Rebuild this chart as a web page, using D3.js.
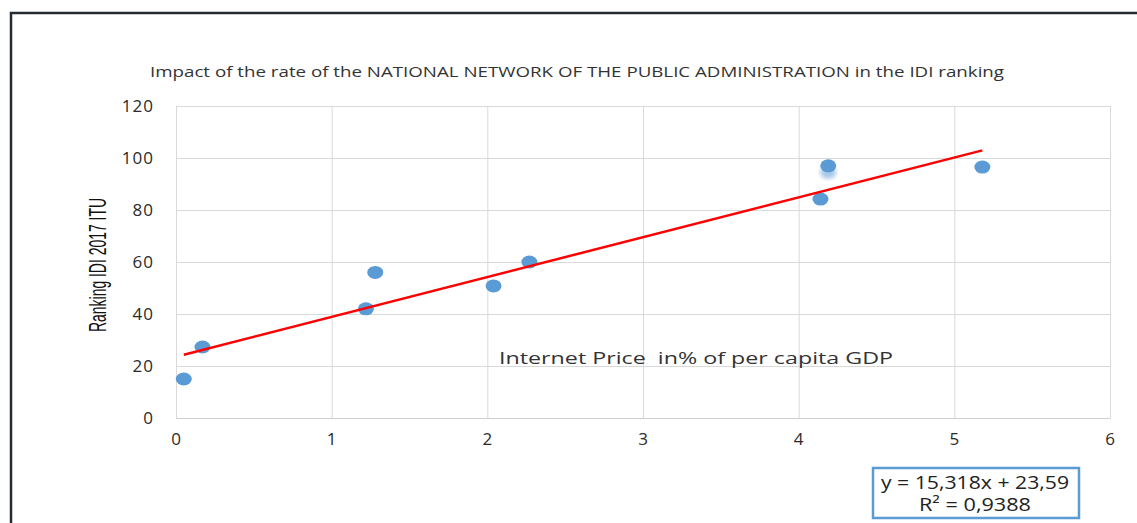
<html>
<head>
<meta charset="utf-8">
<title>IDI ranking scatter</title>
<script src="https://cdnjs.cloudflare.com/ajax/libs/d3/7.8.5/d3.min.js"></script>
<style>
  body { margin: 0; padding: 0; background: #fff; }
  svg { display: block; }
  .grid line { stroke: #d9d9d9; stroke-width: 1; }
  .tick text { font-family: "Open Sans", sans-serif; font-size: 17px; fill: #2a2a2a; letter-spacing: 1px; }
  text { white-space: pre; }
</style>
</head>
<body>
<script>
// values
var priceShare = [0.05, 0.17, 1.22, 1.28, 2.04, 2.27, 4.14, 4.19, 5.18];
var idiRank    = [15, 27.3, 42, 56, 50.8, 60, 84.2, 97, 96.5];
var ghostPoint = [4.19, 94.5];   // faint, blurred duplicate marker
var xTicks = [0, 1, 2, 3, 4, 5, 6];
var yTicks = [0, 20, 40, 60, 80, 100, 120];
var slope = 15.318, intercept = 23.59, r2 = "0,9388";
var titleText = "Impact of the rate of the NATIONAL NETWORK OF THE PUBLIC ADMINISTRATION in the IDI ranking";
var yLabel = "Ranking IDI 2017 ITU";
var xLabel = "Internet Price  in% of per capita GDP";

var w = 1137, h = 523;
var svg = d3.select("body").append("svg").attr("width", w).attr("height", h);

// outer frame (only top and left visible)
svg.append("path")
  .attr("d", "M11,523 V13 H1137")
  .attr("fill", "none")
  .attr("stroke", "#262b33")
  .attr("stroke-width", 2.5);

var x = d3.scaleLinear().domain([0, 6]).range([176, 1110]);
var y = d3.scaleLinear().domain([0, 120]).range([418, 106]);

// gridlines
svg.append("g").attr("class", "grid")
  .selectAll("line.h").data(yTicks).enter().append("line")
  .attr("x1", x(0)).attr("x2", x(6))
  .attr("y1", function(d) { return y(d) + 0.5; })
  .attr("y2", function(d) { return y(d) + 0.5; });
svg.append("g").attr("class", "grid")
  .selectAll("line.v").data(xTicks).enter().append("line")
  .attr("x1", function(d) { return x(d) + 0.5; })
  .attr("x2", function(d) { return x(d) + 0.5; })
  .attr("y1", y(0)).attr("y2", y(120));

// axes (labels only)
var xAxis = svg.append("g").attr("transform", "translate(0," + y(0) + ")")
  .call(d3.axisBottom(x).tickValues(xTicks).tickFormat(d3.format("d")).tickSize(0).tickPadding(15));
xAxis.select(".domain").attr("stroke", "#d0d0d0");
var yAxis = svg.append("g").attr("transform", "translate(" + x(0) + ",0)")
  .call(d3.axisLeft(y).tickValues(yTicks).tickSize(0).tickPadding(22));
yAxis.select(".domain").remove();

// title
svg.append("text")
  .attr("x", 577).attr("y", 77)
  .attr("text-anchor", "middle")
  .attr("font-family", "'Open Sans', sans-serif")
  .attr("font-size", 14.5)
  .attr("fill", "#333")
  .attr("textLength", 854)
  .attr("lengthAdjust", "spacingAndGlyphs")
  .text(titleText);

// y label
svg.append("text")
  .attr("transform", "translate(106,265) rotate(-90)")
  .attr("text-anchor", "middle")
  .attr("font-family", "'Liberation Sans Narrow', 'Liberation Sans', sans-serif")
  .attr("font-size", 24)
  .attr("fill", "#111")
  .attr("textLength", 134)
  .attr("lengthAdjust", "spacingAndGlyphs")
  .text(yLabel);

// x label inside the plot
svg.append("text")
  .attr("x", 499).attr("y", 364)
  .attr("font-family", "'Open Sans', sans-serif")
  .attr("font-size", 17)
  .attr("fill", "#333")
  .attr("textLength", 394)
  .attr("lengthAdjust", "spacingAndGlyphs")
  .text(xLabel);

// blur filter for the ghost marker
svg.append("defs").append("filter").attr("id", "blur")
  .append("feGaussianBlur").attr("stdDeviation", 2.2);

svg.append("ellipse")
  .attr("cx", x(ghostPoint[0])).attr("cy", y(ghostPoint[1]))
  .attr("rx", 8).attr("ry", 6.5)
  .attr("fill", "#5b9bd5").attr("opacity", 0.55)
  .attr("filter", "url(#blur)");

// points
var pts = priceShare.map(function(d, i) { return [d, idiRank[i]]; });
svg.selectAll("ellipse.pt").data(pts).enter().append("ellipse")
  .attr("class", "pt")
  .attr("cx", function(d) { return x(d[0]); })
  .attr("cy", function(d) { return y(d[1]); })
  .attr("rx", 8).attr("ry", 6.5)
  .attr("fill", "#5b9bd5");

// linear trend line over the data range
var xr = d3.extent(priceShare);
svg.append("line")
  .attr("x1", x(xr[0])).attr("y1", y(slope * xr[0] + intercept))
  .attr("x2", x(xr[1])).attr("y2", y(slope * xr[1] + intercept))
  .attr("stroke", "#ff0000")
  .attr("stroke-width", 2.5);

// equation box
svg.append("rect")
  .attr("x", 873).attr("y", 468).attr("width", 206).attr("height", 50)
  .attr("fill", "#fff")
  .attr("stroke", "#5b9bd5")
  .attr("stroke-width", 2.5);
var eq = svg.append("text")
  .attr("text-anchor", "middle")
  .attr("font-family", "'Open Sans', sans-serif")
  .attr("font-size", 18)
  .attr("fill", "#222");
eq.append("tspan").attr("x", 975).attr("y", 489)
  .attr("textLength", 188).attr("lengthAdjust", "spacingAndGlyphs")
  .text("y = " + String(slope).replace(".", ",") + "x + " + String(intercept).replace(".", ","));
eq.append("tspan").attr("x", 975).attr("y", 511)
  .attr("textLength", 112).attr("lengthAdjust", "spacingAndGlyphs")
  .text("R² = " + r2);
</script>
</body>
</html>
